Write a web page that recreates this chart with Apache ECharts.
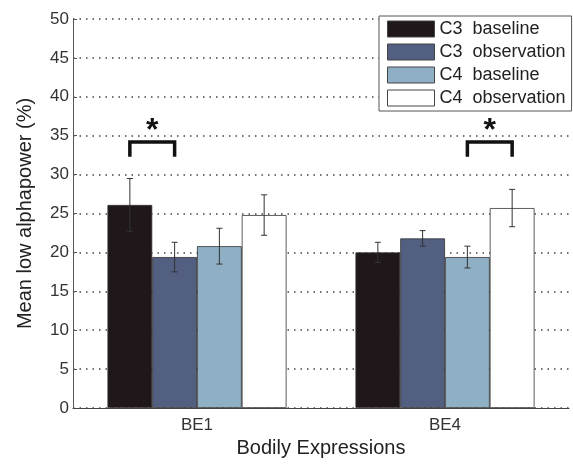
<!DOCTYPE html>
<html>
<head>
<meta charset="utf-8">
<script src="https://cdn.jsdelivr.net/npm/echarts@6/dist/echarts.min.js"></script>
<style>
  html, body { margin: 0; padding: 0; background: #fff; }
  #chart { width: 573px; height: 465px; }
</style>
</head>
<body>
<div id="chart"></div>
<script>
  // categories and groups
  var categories = ['BE1', 'BE4'];
  var seriesNames = ['C3  baseline', 'C3  observation', 'C4  baseline', 'C4  observation'];
  var seriesColors = ['#1f1719', '#535f80', '#8fb0c4', '#ffffff'];

  // means per series, one value per category
  var c3Baseline = [26.1, 20.0];
  var c3Observation = [19.4, 21.8];
  var c4Baseline = [20.8, 19.4];
  var c4Observation = [24.8, 25.7];
  // error half-widths
  var c3BaselineErr = [3.4, 1.3];
  var c3ObservationErr = [1.9, 1.0];
  var c4BaselineErr = [2.3, 1.4];
  var c4ObservationErr = [2.6, 2.4];

  // significance brackets: category, first series, second series, bracket top, leg bottom
  var sigCategory = [0, 1];
  var sigFrom = [0, 2];
  var sigTo = [1, 3];
  var sigTop = [34.2, 34.2];
  var sigLeg = [32.3, 32.3];

  var yTicks = [0, 50, 5];

  var means = [c3Baseline, c3Observation, c4Baseline, c4Observation];
  var errs = [c3BaselineErr, c3ObservationErr, c4BaselineErr, c4ObservationErr];
  var catGap = 0.278;
  var font = '"Liberation Sans", Arial, sans-serif';

  function barOffset(api, s) {
    var catW = api.size([1, 0])[0];
    var barW = catW * (1 - catGap) / 4;
    return (s - 1.5) * barW;
  }

  var series = [];
  means.forEach(function(vals, s) {
    series.push({
      name: seriesNames[s],
      type: 'bar',
      data: vals,
      barGap: '0%',
      barCategoryGap: (catGap * 100) + '%',
      itemStyle: { color: seriesColors[s], borderColor: '#333', borderWidth: 0.8 },
      z: 2
    });
  });

  // error bars
  var errData = [];
  means.forEach(function(vals, s) {
    vals.forEach(function(v, c) {
      errData.push([c, v - errs[s][c], v + errs[s][c], s]);
    });
  });
  series.push({
    type: 'custom',
    data: errData,
    z: 5,
    silent: true,
    renderItem: function(params, api) {
      var c = api.value(0), s = api.value(3);
      var lo = api.coord([c, api.value(1)]);
      var hi = api.coord([c, api.value(2)]);
      var x = lo[0] + barOffset(api, s);
      var cap = 3;
      var st = { stroke: '#333', lineWidth: 1 };
      return {
        type: 'group',
        children: [
          { type: 'line', shape: { x1: x, y1: lo[1], x2: x, y2: hi[1] }, style: st },
          { type: 'line', shape: { x1: x - cap, y1: lo[1], x2: x + cap, y2: lo[1] }, style: st },
          { type: 'line', shape: { x1: x - cap, y1: hi[1], x2: x + cap, y2: hi[1] }, style: st }
        ]
      };
    }
  });

  // significance brackets with star
  var sigData = sigCategory.map(function(c, i) {
    return [c, sigFrom[i], sigTo[i], sigTop[i], sigLeg[i]];
  });
  series.push({
    type: 'custom',
    data: sigData,
    z: 6,
    silent: true,
    renderItem: function(params, api) {
      var c = api.value(0);
      var top = api.coord([c, api.value(3)]);
      var leg = api.coord([c, api.value(4)]);
      var x1 = top[0] + barOffset(api, api.value(1));
      var x2 = top[0] + barOffset(api, api.value(2));
      return {
        type: 'group',
        children: [
          {
            type: 'polyline',
            shape: { points: [[x1, leg[1]], [x1, top[1]], [x2, top[1]], [x2, leg[1]]] },
            style: { stroke: '#111', lineWidth: 3.5, fill: null }
          },
          {
            type: 'text',
            style: {
              x: (x1 + x2) / 2, y: top[1] + 5, text: '*',
              fill: '#111', font: 'bold 32px ' + font,
              align: 'center', verticalAlign: 'bottom'
            }
          }
        ]
      };
    }
  });

  var chart = echarts.init(document.getElementById('chart'));
  chart.setOption({
    animation: false,
    backgroundColor: '#fff',
    textStyle: { fontFamily: font },
    grid: { left: 73, right: 4, top: 19, bottom: 57, containLabel: false, outerBoundsMode: 'none' },
    legend: {
      data: seriesNames,
      orient: 'vertical',
      left: 379,
      top: 16,
      icon: 'rect',
      itemWidth: 47,
      itemHeight: 16,
      itemGap: 5,
      padding: [4, 6, 4, 8],
      borderColor: '#555',
      borderWidth: 1,
      borderRadius: 0,
      backgroundColor: '#fff',
      itemStyle: { borderColor: '#444', borderWidth: 1 },
      textStyle: { fontSize: 18, lineHeight: 18, color: '#222' },
      selectedMode: false
    },
    xAxis: {
      type: 'category',
      data: categories,
      name: 'Bodily Expressions',
      nameLocation: 'middle',
      nameGap: 30,
      nameTextStyle: { fontSize: 20, color: '#222' },
      axisLine: { lineStyle: { color: '#444' } },
      axisTick: { show: false },
      axisLabel: { fontSize: 17, color: '#333', margin: 9 },
      z: 10
    },
    yAxis: {
      type: 'value',
      min: yTicks[0],
      max: yTicks[1],
      interval: yTicks[2],
      name: 'Mean low alphapower (%)',
      nameLocation: 'middle',
      nameGap: 38,
      nameTextStyle: { fontSize: 20, color: '#222' },
      axisLine: { show: true, lineStyle: { color: '#555' } },
      axisTick: { show: true, inside: true, length: 4, lineStyle: { color: '#555' } },
      axisLabel: { fontSize: 17, color: '#333', margin: 4 },
      splitLine: { show: true, lineStyle: { color: '#444', type: [1.5, 5], width: 1.5 } }
    },
    series: series
  });
</script>
</body>
</html>
